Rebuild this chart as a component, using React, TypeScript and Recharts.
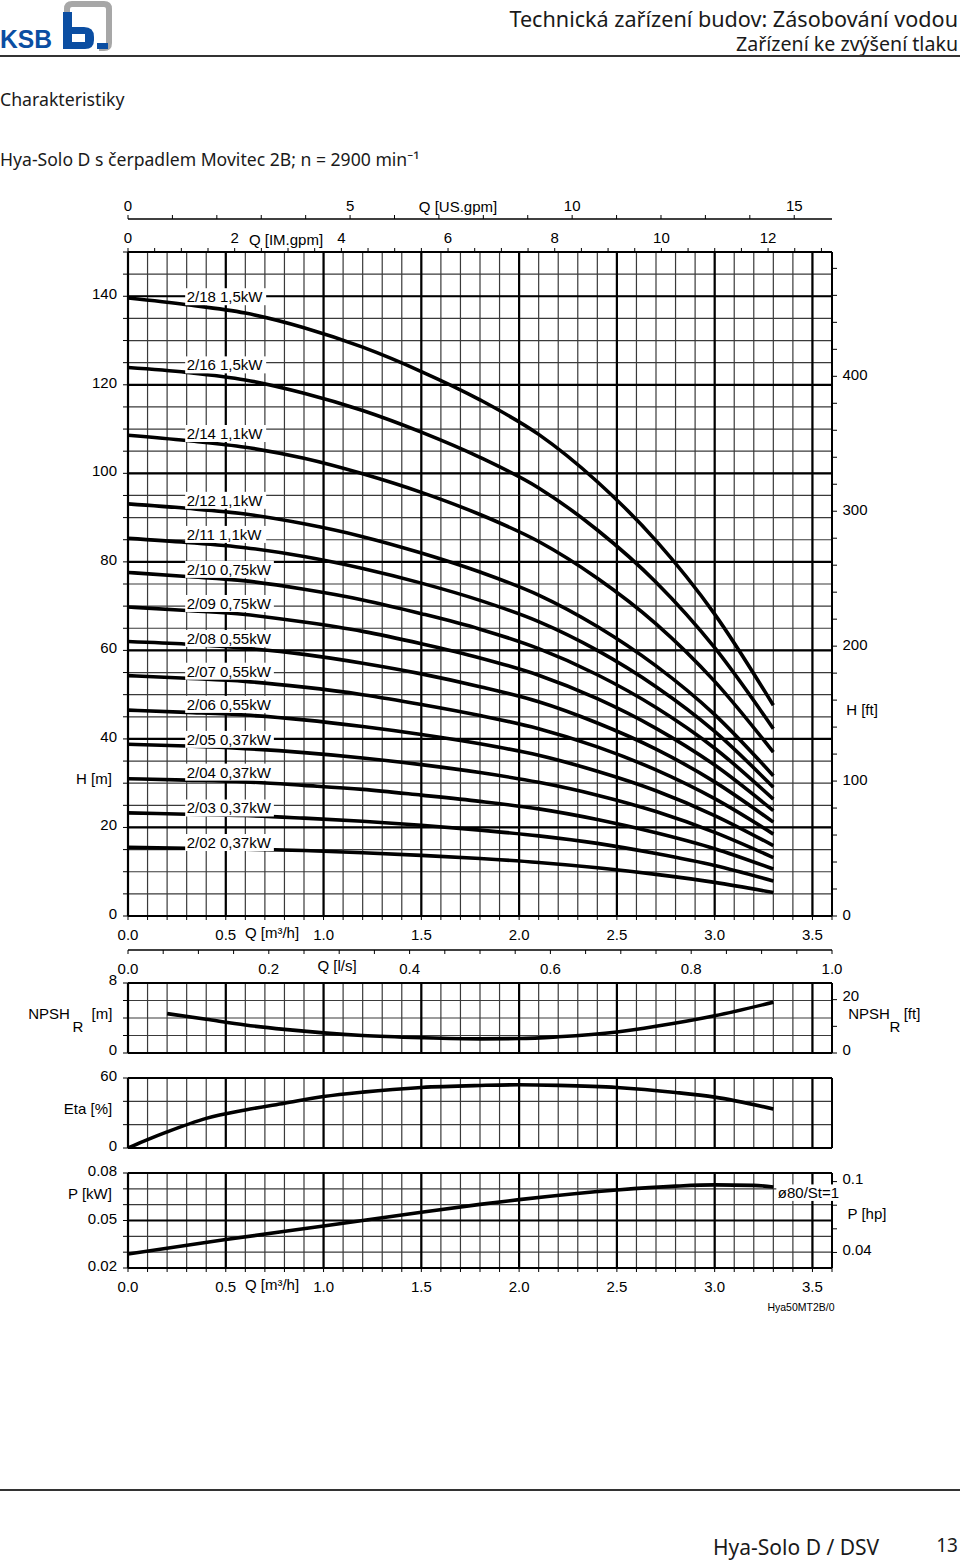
import React from "react";
import { LineChart, Line, XAxis, YAxis, ReferenceLine, ReferenceDot } from "recharts";

const FONT = '"Liberation Sans", Arial, Helvetica, sans-serif';
const TEXT_FONT = '"Noto Sans", "Open Sans", sans-serif';

// flow axis (m³/h) – shared by all four panels
const qTicks = Array.from({ length: 37 }, (_, i) => +(i * 0.1).toFixed(1));
const qLabels = [0, 0.5, 1.0, 1.5, 2.0, 2.5, 3.0, 3.5];
const usTicks = Array.from({ length: 16 }, (_, i) => i);
const usLabels = [0, 5, 10, 15];
const usMax = 15.8503; // 3.6 m³/h in US gpm
const imTicks = Array.from({ length: 27 }, (_, i) => i * 0.5);
const imLabels = [0, 2, 4, 6, 8, 10, 12];
const imMax = 13.1982; // 3.6 m³/h in IM gpm
const lsTicks = Array.from({ length: 21 }, (_, i) => +(i * 0.05).toFixed(2));
const lsLabels = [0, 0.2, 0.4, 0.6, 0.8, 1.0];
const lsMax = 1.0;

// head axis
const hTicks = Array.from({ length: 31 }, (_, i) => i * 5);
const hLabels = [0, 20, 40, 60, 80, 100, 120, 140];
const ftTicks = Array.from({ length: 25 }, (_, i) => i * 20);
const ftLabels = [0, 100, 200, 300, 400];

const npshTicks = [0, 2, 4, 6, 8];
const npshLabels = [0, 8];
const npshFtTicks = [0, 10, 20];
const npshFtLabels = [0, 20];
const etaTicks = [0, 20, 40, 60];
const etaLabels = [0, 60];
const pTicks = [0.02, 0.03, 0.04, 0.05, 0.06, 0.07, 0.08];
const pLabels = [0.02, 0.05, 0.08];
const hpTicks = [0.04, 0.06, 0.08, 0.1];
const hpLabels = [0.04, 0.1];

// H(Q) curves
const qHead = [0, 0.3, 0.6, 0.9, 1.2, 1.5, 1.8, 2.1, 2.4, 2.7, 3.0, 3.3];
const head18 = [139.6, 138.1, 136.2, 132.9, 128.5, 123.0, 116.6, 108.8, 98.1, 84.8, 68.2, 47.6];
const head16 = [123.9, 122.8, 121.1, 118.1, 114.2, 109.3, 103.6, 96.7, 87.2, 75.4, 60.6, 42.3];
const head14 = [108.6, 107.4, 105.9, 103.4, 99.9, 95.7, 90.7, 84.6, 76.3, 66.0, 53.0, 37.0];
const head12 = [93.1, 92.1, 90.8, 88.6, 85.7, 82.0, 77.7, 72.5, 65.4, 56.5, 45.5, 31.7];
const head11 = [85.3, 84.4, 83.2, 81.2, 78.5, 75.2, 71.3, 66.5, 60.0, 51.8, 41.7, 29.1];
const head10 = [77.6, 76.7, 75.7, 73.8, 71.4, 68.3, 64.8, 60.4, 54.5, 47.1, 37.9, 26.4];
const head09 = [69.8, 69.0, 68.1, 66.4, 64.3, 61.5, 58.3, 54.4, 49.1, 42.4, 34.1, 23.8];
const head08 = [62.0, 61.4, 60.5, 59.1, 57.1, 54.7, 51.8, 48.4, 43.6, 37.7, 30.3, 21.2];
const head07 = [54.3, 53.7, 53.0, 51.7, 50.0, 47.8, 45.3, 42.3, 38.2, 33.0, 26.5, 18.5];
const head06 = [46.5, 46.0, 45.4, 44.3, 42.8, 41.0, 38.9, 36.3, 32.7, 28.3, 22.7, 15.9];
const head05 = [38.8, 38.4, 37.8, 36.9, 35.7, 34.2, 32.4, 30.2, 27.3, 23.6, 18.9, 13.2];
const head04 = [31.0, 30.7, 30.3, 29.5, 28.6, 27.3, 25.9, 24.2, 21.8, 18.8, 15.2, 10.6];
const head03 = [23.3, 23.0, 22.7, 22.1, 21.4, 20.5, 19.4, 18.1, 16.4, 14.1, 11.4, 7.9];
const head02 = [15.5, 15.3, 15.1, 14.8, 14.3, 13.7, 13.0, 12.1, 10.9, 9.4, 7.6, 5.3];

const pumpNames = [
  "2/18 1,5kW", "2/16 1,5kW", "2/14 1,1kW", "2/12 1,1kW", "2/11 1,1kW", "2/10 0,75kW", "2/09 0,75kW",
  "2/08 0,55kW", "2/07 0,55kW", "2/06 0,55kW", "2/05 0,37kW", "2/04 0,37kW", "2/03 0,37kW", "2/02 0,37kW",
];
const pumpHeads = [head18, head16, head14, head12, head11, head10, head09, head08, head07, head06, head05, head04, head03, head02];
const labelQ = 0.3;
const labelHeads = [139.9, 124.5, 109.0, 93.9, 86.2, 78.3, 70.6, 62.7, 55.3, 47.8, 39.9, 32.5, 24.4, 16.6];

// NPSH, efficiency, power
const qNpsh = [0.2, 0.4, 0.6, 0.8, 1.0, 1.2, 1.5, 1.8, 2.0, 2.2, 2.5, 2.7, 3.0, 3.3];
const npsh = [4.5, 3.85, 3.2, 2.7, 2.3, 2.0, 1.75, 1.62, 1.65, 1.85, 2.4, 3.05, 4.25, 5.8];
const qEta = [0, 0.1, 0.2, 0.4, 0.6, 0.8, 1.0, 1.2, 1.5, 1.8, 2.0, 2.2, 2.5, 2.8, 3.0, 3.3];
const eta = [0, 7.2, 13.8, 25.4, 32.6, 38.4, 44.1, 47.9, 51.9, 53.6, 54.2, 53.7, 51.9, 47.6, 43.6, 33.5];
const qPower = [0, 0.5, 1.0, 1.5, 1.8, 2.0, 2.5, 2.8, 3.0, 3.2, 3.3];
const power = [0.0288, 0.038, 0.0465, 0.0552, 0.0602, 0.0632, 0.0693, 0.0717, 0.0725, 0.0722, 0.0712];
const powerLabel = "ø80/St=1";

const near = (arr: number[], v: number) => arr.some((a) => Math.abs(a - v) < 1e-6);

const makeTick = (labels: number[], fmt: (v: number) => string, dx: number, dy: number, anchor: string) =>
  (props: any) => {
    const { x, y, payload } = props;
    if (!near(labels, payload.value)) return <g />;
    return (
      <text x={x + dx} y={y + dy} textAnchor={anchor} dominantBaseline="central" fontFamily={FONT} fontSize={15} fill="#000">
        {fmt(payload.value)}
      </text>
    );
  };

const f1 = (v: number) => v.toFixed(1);
const f2 = (v: number) => v.toFixed(2);
const fInt = (v: number) => String(v);
const fHp = (v: number) => (Math.abs(v - 0.1) < 1e-6 ? "0.1" : v.toFixed(2));

const labelBox = (text: string) => (props: any) => {
  const { cx, cy } = props;
  const w = text.length * 7.7 + 4;
  return (
    <g>
      <rect x={cx - 1.5} y={cy - 8.5} width={w} height={17} fill="#fff" />
      <text x={cx} y={cy} dominantBaseline="central" fontFamily={FONT} fontSize={15} fill="#000">
        {text}
      </text>
    </g>
  );
};

const endLabel = (text: string) => (props: any) => {
  const { cx, cy } = props;
  return (
    <g>
      <rect x={cx + 3} y={cy - 2.5} width={67} height={16.5} fill="#fff" />
      <text x={cx + 4.5} y={cy + 6} dominantBaseline="central" fontFamily={FONT} fontSize={15} fill="#000">
        {text}
      </text>
    </g>
  );
};

const THIN = "#3a3a3a";

function grid(yId: string, yThin: number[], yThick: number[], yMin: number, yMax: number) {
  return [
    ...qTicks.map((q) => (
      <ReferenceLine key={"vq" + q} xAxisId="q" yAxisId={yId} x={q} stroke={THIN} strokeWidth={1.2} />
    )),
    ...yThin.map((v) => (
      <ReferenceLine key={"hy" + v} xAxisId="q" yAxisId={yId} y={v} stroke={THIN} strokeWidth={1.2} />
    )),
    ...qLabels.map((q) => (
      <ReferenceLine key={"vQ" + q} xAxisId="q" yAxisId={yId} x={q} stroke="#000" strokeWidth={2.2} />
    )),
    ...yThick.map((v) => (
      <ReferenceLine key={"hY" + v} xAxisId="q" yAxisId={yId} y={v} stroke="#000" strokeWidth={2.2} />
    )),
    <ReferenceLine key="bl" xAxisId="q" yAxisId={yId} x={0} stroke="#000" strokeWidth={2} />,
    <ReferenceLine key="br" xAxisId="q" yAxisId={yId} x={3.6} stroke="#000" strokeWidth={2} />,
    <ReferenceLine key="bb" xAxisId="q" yAxisId={yId} y={yMin} stroke="#000" strokeWidth={2} />,
    <ReferenceLine key="bt" xAxisId="q" yAxisId={yId} y={yMax} stroke="#000" strokeWidth={2} />,
  ];
}

// invisible two-point series so that a unit-conversion axis gets its domain
const axisSpan = (axisId: string, max: number) => (
  <Line key={"span" + axisId} xAxisId={axisId} yAxisId="h" data={[{ x: 0, y: 0 }, { x: max, y: 0 }]} dataKey="y"
    stroke="none" dot={false} activeDot={false} legendType="none" isAnimationActive={false} />
);

const tickLine = { stroke: "#000", strokeWidth: 1 };

const Txt = ({ x, y, anchor = "middle", size = 15, font = FONT, weight = 400, color = "#000", children }: any) => {
  const tx = anchor === "middle" ? "-50%" : anchor === "end" ? "-100%" : "0";
  return (
    <div
      style={{
        position: "absolute", left: x, top: y, transform: `translate(${tx}, -50%)`, fontSize: size,
        fontFamily: font, fontWeight: weight, lineHeight: 1, whiteSpace: "nowrap", color,
      }}
    >
      {children}
    </div>
  );
};

function HeadChart() {
  return (
    <div style={{ position: "absolute", left: 0, top: 186 }}>
      <LineChart width={960} height={790} margin={{ top: 0, right: 0, bottom: 0, left: 0 }}>
        <XAxis xAxisId="q" dataKey="q" type="number" orientation="bottom" height={34} domain={[0, 3.6]} allowDataOverflow
          ticks={qTicks} interval={0} axisLine={false} tickSize={4} tickLine={tickLine} tick={makeTick(qLabels, f1, 0, 12, "middle")} />
        <XAxis xAxisId="zls" dataKey="x" type="number" orientation="bottom" height={26} domain={[0, lsMax]} allowDataOverflow
          ticks={lsTicks} interval={0} axisLine={{ stroke: "#000", strokeWidth: 1.5 }} tickSize={4} tickLine={tickLine}
          tick={makeTick(lsLabels, f1, 0, 12, "middle")} />
        <XAxis xAxisId="im" dataKey="x" type="number" orientation="top" height={33} domain={[0, imMax]} allowDataOverflow
          ticks={imTicks} interval={0} axisLine={false} tickSize={4} tickLine={tickLine} tick={makeTick(imLabels, fInt, 0, -8.5, "middle")} />
        <XAxis xAxisId="us" dataKey="x" type="number" orientation="top" height={33} domain={[0, usMax]} allowDataOverflow
          ticks={usTicks} interval={0} axisLine={{ stroke: "#000", strokeWidth: 1.5 }} tickSize={4} tickLine={tickLine}
          tick={makeTick(usLabels, fInt, 0, -8, "middle")} />
        <YAxis yAxisId="h" type="number" width={128} domain={[0, 150]} allowDataOverflow ticks={hTicks} interval={0}
          axisLine={false} tickSize={5} tickLine={tickLine} tick={makeTick(hLabels, fInt, -4, -2.5, "end")} />
        <YAxis yAxisId="ft" type="number" orientation="right" width={128} domain={[0, 492.126]} allowDataOverflow ticks={ftTicks}
          interval={0} axisLine={false} tickSize={5} tickLine={tickLine} tick={makeTick(ftLabels, fInt, 3.5, -1.5, "start")} />
        {grid("h", hTicks, hLabels, 0, 150)}
        {axisSpan("zls", lsMax)}
        {axisSpan("im", imMax)}
        {axisSpan("us", usMax)}
        {pumpHeads.map((arr, i) => (
          <Line key={pumpNames[i]} xAxisId="q" yAxisId="h" data={qHead.map((q, j) => ({ q, h: arr[j] }))} dataKey="h"
            type="monotone" stroke="#000" strokeWidth={3.6} dot={false} isAnimationActive={false} />
        ))}
        {pumpNames.map((name, i) => (
          <ReferenceDot key={"lb" + name} xAxisId="q" yAxisId="h" x={labelQ} y={labelHeads[i]} r={0} shape={labelBox(name)} />
        ))}
      </LineChart>
    </div>
  );
}

function NpshChart() {
  return (
    <div style={{ position: "absolute", left: 0, top: 963 }}>
      <LineChart width={960} height={100} margin={{ top: 20, right: 0, bottom: 10, left: 0 }}>
        <XAxis xAxisId="q" dataKey="q" type="number" domain={[0, 3.6]} allowDataOverflow hide />
        <YAxis yAxisId="m" type="number" width={128} domain={[0, 8]} allowDataOverflow ticks={npshTicks} interval={0}
          axisLine={false} tickSize={5} tickLine={tickLine} tick={makeTick(npshLabels, fInt, -4, -4, "end")} />
        <YAxis yAxisId="ft" type="number" orientation="right" width={128} domain={[0, 26.2467]} allowDataOverflow
          ticks={npshFtTicks} interval={0} axisLine={false} tickSize={5} tickLine={tickLine}
          tick={makeTick(npshFtLabels, fInt, 3.5, -4, "start")} />
        {grid("m", npshTicks, [], 0, 8)}
        <Line xAxisId="q" yAxisId="m" data={qNpsh.map((q, j) => ({ q, v: npsh[j] }))} dataKey="v" type="monotone"
          stroke="#000" strokeWidth={3.6} dot={false} isAnimationActive={false} />
      </LineChart>
    </div>
  );
}

function EtaChart() {
  return (
    <div style={{ position: "absolute", left: 0, top: 1058 }}>
      <LineChart width={960} height={100} margin={{ top: 20, right: 0, bottom: 10, left: 0 }}>
        <XAxis xAxisId="q" dataKey="q" type="number" domain={[0, 3.6]} allowDataOverflow hide />
        <YAxis yAxisId="e" type="number" width={128} domain={[0, 60]} allowDataOverflow ticks={etaTicks} interval={0}
          axisLine={false} tickSize={5} tickLine={tickLine} tick={makeTick(etaLabels, fInt, -4, -3, "end")} />
        <YAxis yAxisId="r" type="number" orientation="right" width={128} domain={[0, 60]} tick={false} tickLine={false} axisLine={false} />
        {grid("e", etaTicks, [], 0, 60)}
        <Line xAxisId="q" yAxisId="e" data={qEta.map((q, j) => ({ q, v: eta[j] }))} dataKey="v" type="monotone"
          stroke="#000" strokeWidth={3.6} dot={false} isAnimationActive={false} />
      </LineChart>
    </div>
  );
}

function PowerChart() {
  return (
    <div style={{ position: "absolute", left: 0, top: 1153 }}>
      <LineChart width={960} height={145} margin={{ top: 20, right: 0, bottom: 0, left: 0 }}>
        <XAxis xAxisId="q" dataKey="q" type="number" orientation="bottom" height={30} domain={[0, 3.6]} allowDataOverflow
          ticks={qTicks} interval={0} axisLine={false} tickSize={4} tickLine={tickLine} tick={makeTick(qLabels, f1, 0, 12, "middle")} />
        <YAxis yAxisId="p" type="number" width={128} domain={[0.02, 0.08]} allowDataOverflow ticks={pTicks} interval={0}
          axisLine={false} tickSize={5} tickLine={tickLine} tick={makeTick(pLabels, f2, -4, -2.5, "end")} />
        <YAxis yAxisId="hp" type="number" orientation="right" width={128} domain={[0.02682, 0.107282]} allowDataOverflow
          ticks={hpTicks} interval={0} axisLine={false} tickSize={5} tickLine={tickLine} tick={makeTick(hpLabels, fHp, 3.5, -3, "start")} />
        {grid("p", pTicks, [0.05], 0.02, 0.08)}
        <Line xAxisId="q" yAxisId="p" data={qPower.map((q, j) => ({ q, v: power[j] }))} dataKey="v" type="monotone"
          stroke="#000" strokeWidth={3.6} dot={false} isAnimationActive={false} />
        <ReferenceDot xAxisId="q" yAxisId="p" x={qPower[qPower.length - 1]} y={power[power.length - 1]} r={0}
          shape={endLabel(powerLabel)} />
      </LineChart>
    </div>
  );
}

function Logo() {
  const blue = "#0b4ea2";
  return (
    <svg width={116} height={54} style={{ position: "absolute", left: 0, top: 0 }}>
      <path d="M67 30 V9 Q67 4 72 4 H104 Q109 4 109 9 V43 Q109 48 104 48 H99" fill="none" stroke="#a7a7a7" strokeWidth={6} />
      <rect x={63} y={12} width={9} height={37} fill={blue} />
      <path d="M63 27 H84 Q94 27 94 37 V40 Q94 49 85 49 H63 Z" fill={blue} />
      <rect x={72} y={34} width={13} height={8} fill="#fff" />
      <rect x={97} y={43} width={11} height={6} fill={blue} />
      <text x={0} y={48} fontFamily={FONT} fontWeight="bold" fontSize={26} fill={blue} textLength={52} lengthAdjust="spacingAndGlyphs">
        KSB
      </text>
    </svg>
  );
}

export default function App() {
  return (
    <div style={{ position: "relative", width: 960, height: 1560, background: "#fff", overflow: "hidden" }}>
      <style>{"body{margin:0}"}</style>
      <Logo />
      <Txt x={958} y={19} anchor="end" size={21.6} font={TEXT_FONT} color="#1a1a1a">Technická zařízení budov: Zásobování vodou</Txt>
      <Txt x={958} y={44} anchor="end" size={19.6} font={TEXT_FONT} color="#1a1a1a">Zařízení ke zvýšení tlaku</Txt>
      <div style={{ position: "absolute", left: 0, top: 55, width: 960, height: 2, background: "#333" }} />
      <Txt x={0} y={100} anchor="start" size={17.7} font={TEXT_FONT} color="#1a1a1a">Charakteristiky</Txt>
      <Txt x={0} y={160} anchor="start" size={17.6} font={TEXT_FONT} color="#1a1a1a">Hya-Solo D s čerpadlem Movitec 2B; n = 2900 min⁻¹</Txt>

      <HeadChart />
      <NpshChart />
      <EtaChart />
      <PowerChart />

      <Txt x={458} y={206}>Q [US.gpm]</Txt>
      <Txt x={286} y={239}>Q [IM.gpm]</Txt>
      <Txt x={272} y={932}>Q [m³/h]</Txt>
      <Txt x={337} y={965}>Q [l/s]</Txt>
      <Txt x={94} y={778}>H [m]</Txt>
      <Txt x={862} y={709}>H [ft]</Txt>
      <Txt x={49} y={1013}>NPSH</Txt>
      <Txt x={78} y={1026}>R</Txt>
      <Txt x={102} y={1013}>[m]</Txt>
      <Txt x={869} y={1013}>NPSH</Txt>
      <Txt x={895} y={1026}>R</Txt>
      <Txt x={912} y={1013}>[ft]</Txt>
      <Txt x={88} y={1108}>Eta [%]</Txt>
      <Txt x={90} y={1193}>P [kW]</Txt>
      <Txt x={867} y={1213}>P [hp]</Txt>
      <Txt x={272} y={1284}>Q [m³/h]</Txt>
      <Txt x={801} y={1307} size={10.5}>Hya50MT2B/0</Txt>

      <div style={{ position: "absolute", left: 0, top: 1489, width: 960, height: 2, background: "#333" }} />
      <Txt x={713} y={1547} anchor="start" size={21} font={TEXT_FONT} color="#1a1a1a">Hya-Solo D / DSV</Txt>
      <Txt x={958} y={1545} anchor="end" size={19} font={TEXT_FONT} color="#1a1a1a">13</Txt>
    </div>
  );
}
